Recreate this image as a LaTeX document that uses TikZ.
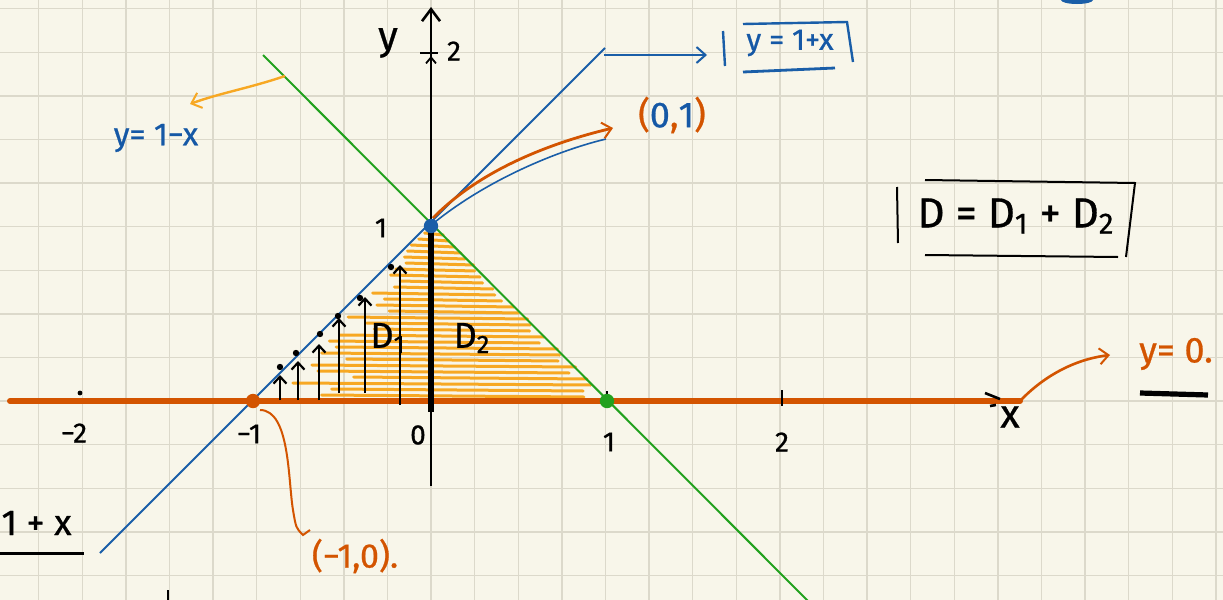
\documentclass[tikz,border=0pt]{standalone}
\usepackage{fontspec}
\setmainfont{Fira Sans}[FakeBold=0.7]
\usetikzlibrary{arrows.meta}
\definecolor{bgc}{HTML}{F8F6EA}
\definecolor{gridc}{HTML}{DCD9CB}
\definecolor{axo}{HTML}{D35400}
\definecolor{lblue}{HTML}{1A5EA8}
\definecolor{tblue}{HTML}{1558A6}
\definecolor{lgreen}{HTML}{22A11E}
\definecolor{hatchc}{HTML}{F7A823}
\tikzset{
  gridline/.style={gridc, line width=0.7pt},
  barb/.style={-{Straight Barb[length=4.5pt,width=8pt,line width=1pt]}},
  smallbarb/.style={-{Straight Barb[length=3pt,width=5pt,line width=0.9pt]}},
  hatch/.style={hatchc, line width=1.5pt, line cap=round, line join=round},
  uparrow/.style={black, line width=1.3pt, -{Straight Barb[length=3.5pt,width=6.5pt,line width=1.1pt]}},
  fs/.style={font=\fontsize{#1}{#1}\selectfont, inner sep=0pt}
}
\begin{document}
\begin{tikzpicture}[x=0.5pt,y=-0.5pt]
\useasboundingbox (0,0) rectangle (1223,600);
\fill[bgc] (0,0) rectangle (1223,600);
\begin{scope}
\clip (0,0) rectangle (1223,600);
% grid
\foreach \i in {-9,...,18} \draw[gridline] ({431+\i*43.6},0) -- ({431+\i*43.6},600);
\foreach \j in {-9,...,4} \draw[gridline] (0,{401+\j*43.6}) -- (1223,{401+\j*43.6});
% hatching of the triangle
\pgfmathsetseed{11}
\foreach \yy in {233,239,...,395} {
  \pgfmathsetmacro\ww{354-2*(401-\yy)}
  \pgfmathsetmacro\xl{253+(401-\yy)+\ww*(0.04+0.24*rnd)}
  \pgfmathsetmacro\xr{607-(401-\yy)-\ww*0.10*rnd+6}
  \draw[hatch] (\xl,\yy) -- (\xr,\yy+2);
}
% lines
\coordinate (b1) at (100,553); \coordinate (b2) at (605,48);
\coordinate (g1) at (263,55);  \coordinate (g2) at (812,605);
\draw[lblue, line width=1pt] (b1) -- (b2);
\draw[lgreen, line width=1pt] (g1) -- (g2);
% x axis
\coordinate (xa0) at (10,401); \coordinate (xa1) at (1020,401);
\draw[axo, line width=3pt, line cap=round] (xa0) -- (xa1);
\draw[black, line width=1.3pt] (985,393) -- (1000,399);
\draw[black, line width=1.3pt] (990,406) -- (996,405);
% y axis
\coordinate (ya0) at (431,486); \coordinate (ya1) at (431,7);
\draw[black, line width=1.1pt, -{Straight Barb[length=6pt,width=9pt,line width=1.3pt]}] (ya0) -- (ya1);
\draw[black, line width=3pt] (431,226) -- (431,412);
\draw[black, line width=1.4pt] (420,53) -- (438,53);
\draw[black, line width=1pt, smallbarb] (431,68) -- (431,56);
% ticks
\fill[black] (80,393) circle (1.2pt);
\draw[black, line width=1.3pt] (782,390) -- (782,406);
\draw[black, line width=1.3pt] (607,391) -- (607,397);
% vertical arrows in D1
\foreach \ax/\ya/\yb/\dx/\dy in {280/400/375/280/367, 298/400/361/296/353, 319/400/344/320/334, 339/393/318/338/316, 365/393/297/360/298, 400/405/265/391/267} {
  \draw[uparrow] (\ax,\ya) -- (\ax,\yb);
  \fill[black] (\dx,\dy) circle (1.6pt);
}
% points
\fill[axo] (253,401) circle (3.6pt);
\fill[lgreen] (607,401) circle (3.6pt);
\fill[lblue] (431,226) circle (3.6pt);
% labels on axes
\node[fs=20] (ylab) at (388,43) {y};
\node[fs=14] (y2) at (454,51) {2};
\node[fs=14] (y1) at (381,228) {1};
\node[fs=14] (xm2) at (74,433) {−2};
\node[fs=14] (xm1) at (249,434) {−1};
\node[fs=14] (x0) at (418,435) {0};
\node[fs=14] (x1) at (609,442) {1};
\node[fs=14] (x2) at (782,442) {2};
\node[fs=20] (xlab) at (1010,417) {x};
\node[fs=18] (d1) at (388,338) {D\textsubscript{1}};
\node[fs=18] (d2) at (472,338) {D\textsubscript{2}};
% (0,1) annotation
\node[fs=18, text=axo] (p01) at (672,115) {(\textcolor{tblue}{0},\textcolor{tblue}{1})};
\coordinate (p01tip) at (613,128);
\draw[lblue, line width=0.8pt] (435,222) .. controls (490,178) and (560,150) .. (606,139);
\draw[axo, line width=1.4pt, barb] (433,218) .. controls (480,170) and (550,143) .. (p01tip);
% y = 1+x annotation
\node[fs=15, text=tblue] (eqb) at (790,43) {y = 1+x};
\coordinate (bstart) at (604,55);
\draw[lblue, line width=1.2pt, barb] (bstart) -- (707,55);
\draw[lblue, line width=1.2pt] (723,31) -- (725,66);
\draw[lblue, line width=1.2pt] (743,24) -- (847,22) -- (853,62);
\draw[lblue, line width=1.4pt] (743,72) -- (835,68);
% y = 1-x annotation
\node[fs=16, text=tblue] (eqg) at (156,138) {y= 1−x};
\coordinate (gstart) at (285,76);
\draw[hatchc, line width=1.2pt, barb] (gstart) .. controls (250,88) and (220,93) .. (190,104);
% D = D1 + D2
\node[fs=21] (dsum) at (1016,216) {D = D\textsubscript{1} + D\textsubscript{2}};
\draw[black, line width=1pt] (897,187) -- (898,243);
\draw[black, line width=1pt] (925,180) -- (1135,183) -- (1126,257);
\draw[black, line width=1pt] (925,255) -- (1118,257);
% y = 0 annotation
\node[fs=18, text=axo] (eqx) at (1176,354) {y= 0.};
\draw[axo, line width=1.3pt, barb] (xa1) .. controls (1040,380) and (1070,360) .. (1110,355);
\draw[black, line width=2.6pt] (1140,393) -- (1208,395);
% (-1,0) annotation
\node[fs=17, text=axo] (pm10) at (355,556) {(−1,0).};
\draw[axo, line width=1pt] (260,410) .. controls (290,410) and (288,480) .. (293,510) .. controls (296,528) .. (303,535) -- (310,530);
% partial items at the edges
\node[fs=18, anchor=east] (frag) at (72,523) {1 + x};
\draw[black, line width=1.5pt] (0,553) -- (84,553);
\draw[black, line width=1pt] (168,590) -- (168,600);
\fill[lblue] (1077,0) ellipse (8pt and 2pt);
\end{scope}
\end{tikzpicture}
\end{document}
